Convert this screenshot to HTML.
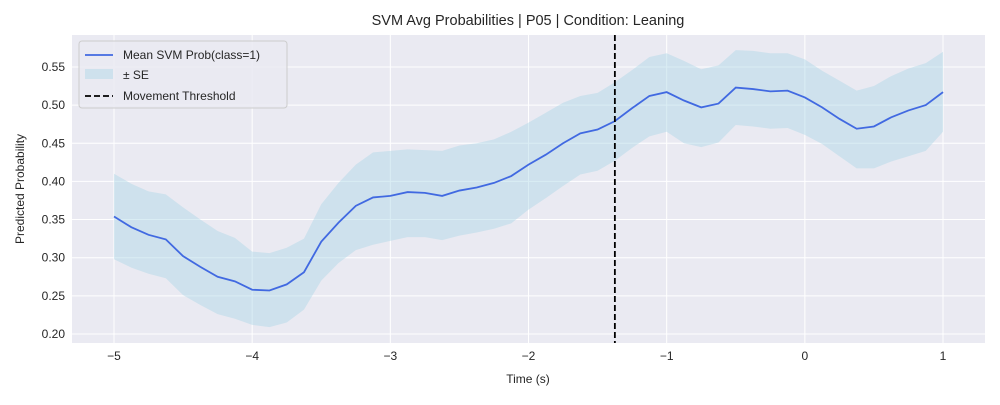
<!DOCTYPE html>
<html><head><meta charset="utf-8"><style>
body{margin:0;background:#fff;font-family:"Liberation Sans",sans-serif}
svg text{font-family:"Liberation Sans",sans-serif;fill:#262626}
</style></head><body>
<svg id="chart" width="1000" height="400" xmlns="http://www.w3.org/2000/svg"></svg>
<script>
const times=[];for(let k=0;k<=48;k++)times.push(-5+0.125*k);
const meanVals=[0.354,0.340,0.330,0.324,0.302,0.288,0.275,0.269,0.258,0.257,0.265,0.281,0.321,0.346,0.368,0.379,0.381,0.386,0.385,0.381,0.388,0.392,0.398,0.407,0.422,0.435,0.450,0.463,0.468,0.479,0.496,0.512,0.517,0.506,0.497,0.502,0.523,0.521,0.518,0.519,0.510,0.497,0.482,0.469,0.472,0.484,0.493,0.500,0.517];
const upperVals=[0.410,0.397,0.387,0.383,0.366,0.350,0.335,0.326,0.308,0.306,0.313,0.325,0.370,0.398,0.422,0.438,0.440,0.442,0.441,0.440,0.447,0.450,0.455,0.465,0.477,0.490,0.503,0.512,0.516,0.530,0.546,0.563,0.568,0.558,0.547,0.552,0.572,0.571,0.568,0.568,0.560,0.545,0.532,0.519,0.525,0.538,0.548,0.555,0.570];
const lowerVals=[0.298,0.287,0.279,0.273,0.251,0.238,0.226,0.220,0.212,0.209,0.215,0.232,0.270,0.293,0.310,0.317,0.322,0.327,0.327,0.323,0.329,0.333,0.338,0.345,0.363,0.378,0.394,0.409,0.414,0.427,0.444,0.459,0.465,0.450,0.445,0.451,0.474,0.472,0.469,0.470,0.461,0.449,0.433,0.417,0.417,0.426,0.433,0.440,0.465];
const xTicks=[-5,-4,-3,-2,-1,0,1];
const xTickLabels=["−5","−4","−3","−2","−1","0","1"];
const yTicks=[0.20,0.25,0.30,0.35,0.40,0.45,0.50,0.55];
const threshold=-1.375;

const L=72,R=985,T=35,B=343;
const X=v=>114+(v+5)*138.17;
const Y=v=>334-(v-0.2)*763;
const svg=document.getElementById('chart');
const NS='http://www.w3.org/2000/svg';
function mk(tag,attrs,parent){const e=document.createElementNS(NS,tag);for(const k in attrs)e.setAttribute(k,attrs[k]);(parent||svg).appendChild(e);return e;}

const bg=mk('rect',{x:L,y:T,width:R-L,height:B-T,fill:'#eaeaf2'});


xTicks.forEach((t,i)=>{
  const g=mk('line',{x1:X(t),x2:X(t),y1:T,y2:B,stroke:'#fff','stroke-width':1});
  
  
  const tx=mk('text',{x:X(t),y:B+17,'text-anchor':'middle','font-size':12});
  tx.textContent=xTickLabels[i];
  
  
});
yTicks.forEach(t=>{
  const g=mk('line',{x1:L,x2:R,y1:Y(t),y2:Y(t),stroke:'#fff','stroke-width':1});
  
  
  const tx=mk('text',{x:L-7,y:Y(t)+4,'text-anchor':'end','font-size':12});
  tx.textContent=t.toFixed(2);
  
  
});
let d='';times.forEach((t,i)=>{d+=(i?'L':'M')+X(t)+','+Y(upperVals[i]);});
for(let i=times.length-1;i>=0;i--)d+='L'+X(times[i])+','+Y(lowerVals[i]);
const band=mk('path',{d:d+'Z',fill:'#add8e6','fill-opacity':0.45});


const line=mk('polyline',{points:times.map((t,i)=>X(t)+','+Y(meanVals[i])).join(' '),fill:'none',stroke:'#4169e1','stroke-width':1.8});


const th=mk('line',{x1:X(threshold),x2:X(threshold),y1:T,y2:B,stroke:'#000','stroke-width':1.8,'stroke-dasharray':'6,3'});


const title=mk('text',{x:528,y:25,'text-anchor':'middle','font-size':14.5});
title.textContent='SVM Avg Probabilities | P05 | Condition: Leaning';


const xl=mk('text',{x:528,y:383,'text-anchor':'middle','font-size':12});
xl.textContent='Time (s)';


const yl=mk('text',{x:24,y:189,'text-anchor':'middle','font-size':12,transform:'rotate(-90 24 189)'});
yl.textContent='Predicted Probability';


const lg=mk('g',{});


mk('rect',{x:79,y:41,width:208,height:67,rx:3,fill:'#eaeaf2',stroke:'#ccc','fill-opacity':0.85},lg);
mk('line',{x1:85,x2:113,y1:55,y2:55,stroke:'#4169e1','stroke-width':1.8},lg);
mk('rect',{x:85,y:69,width:28,height:10,fill:'#add8e6','fill-opacity':0.45},lg);
mk('line',{x1:85,x2:113,y1:96,y2:96,stroke:'#000','stroke-width':1.8,'stroke-dasharray':'6,3'},lg);
[['Mean SVM Prob(class=1)',59,'legend-entry-mean'],['± SE',79,'legend-entry-se'],['Movement Threshold',100,'legend-entry-threshold']].forEach(([s,y,n])=>{
  const t=mk('text',{x:123,y:y,'font-size':12},lg);t.textContent=s;
  
  
});
</script>
</body></html>
